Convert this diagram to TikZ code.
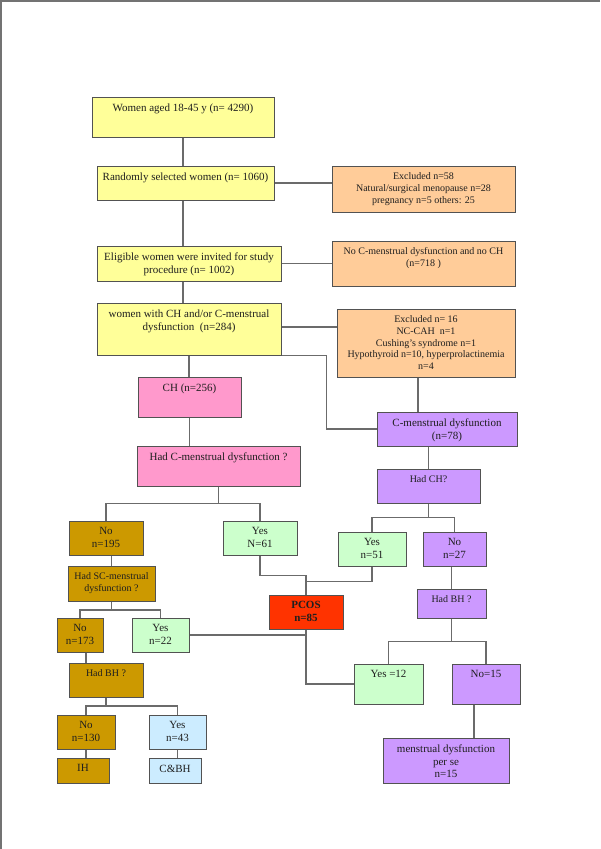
\documentclass[tikz,border=0pt]{standalone}
\usepackage{fontspec}
\setmainfont{Liberation Serif}
\usetikzlibrary{fit,calc}
\definecolor{cy}{HTML}{FFFF99}
\definecolor{co}{HTML}{FFCC99}
\definecolor{cp}{HTML}{FF99CC}
\definecolor{cv}{HTML}{CC99FF}
\definecolor{cl}{HTML}{CCFFCC}
\definecolor{cg}{HTML}{CC9900}
\definecolor{cb}{HTML}{CCECFF}
\definecolor{cr}{HTML}{FF3300}
\newcommand{\mkbox}[8]{%
  \node[boxst, fill=#6, fit={(#2,#3) (#4,#5)}] (#1) {};
  \node[#8] (#1t) at ([yshift=-7pt]#1.north) {#7};
}
\tikzset{
  boxst/.style={draw=black!68, line width=1pt, inner sep=0pt, rectangle},
  tx/.style={anchor=north, inner sep=0pt, align=center, text=black!88, font=\fontsize{11}{12.7}\selectfont},
  txs/.style={anchor=north, inner sep=0pt, align=center, text=black!88, font=\fontsize{10}{11.7}\selectfont},
  ln/.style={draw=black!58, line width=1.1pt},
}
\begin{document}
\begin{tikzpicture}[x=1pt, y=-1pt]
\useasboundingbox (0,0) rectangle (600,849);
\draw[black!55, line width=1.5pt] (600,0.75) -- (0.75,0.75) -- (0.75,849);
\mkbox{w}{92}{97}{274}{137}{cy}{Women aged 18-45 y (n= 4290)}{tx}
\mkbox{r}{97}{166}{274}{200}{cy}{Randomly selected women (n= 1060)}{tx}
\mkbox{ex1}{332}{166}{515}{212}{co}{Excluded n=58\\Natural/surgical menopause n=28\\pregnancy n=5 others: 25}{txs}
\mkbox{e}{97}{246}{281}{281}{cy}{Eligible women were invited for study\\procedure (n= 1002)}{tx}
\mkbox{nc}{332}{241}{515}{286}{co}{No C-menstrual dysfunction and no CH\\(n=718 )}{txs}
\mkbox{c}{97}{303}{281}{355}{cy}{women with CH and/or C-menstrual\\dysfunction\ \ (n=284)}{tx}
\mkbox{ex2}{337}{309}{515}{377}{co}{Excluded n= 16\\NC-CAH\ \ n=1\\Cushing’s syndrome n=1\\Hypothyroid n=10, hyperprolactinemia\\n=4}{txs}
\mkbox{ch}{138}{377}{241}{417}{cp}{CH (n=256)}{tx}
\mkbox{hc}{137}{446}{300}{486}{cp}{Had C-menstrual dysfunction ?}{tx}
\mkbox{cm}{377}{412}{517}{446}{cv}{C-menstrual dysfunction\\(n=78)}{tx}
\mkbox{hch}{377}{469}{480}{503}{cv}{Had CH?}{txs}
\mkbox{n195}{69}{521}{143}{555}{cg}{No\\n=195}{tx}
\mkbox{y61}{223}{521}{297}{555}{cl}{Yes\\N=61}{tx}
\mkbox{y51}{338}{532}{406}{566}{cl}{Yes\\n=51}{tx}
\mkbox{n27}{423}{532}{486}{566}{cv}{No\\n=27}{tx}
\mkbox{hsc}{68}{566}{155}{601}{cg}{Had SC-menstrual\\dysfunction ?}{txs}
\mkbox{pcos}{269}{595}{343}{629}{cr}{\textbf{PCOS}\\\textbf{n=85}}{tx}
\mkbox{hbh2}{417}{589}{486}{618}{cv}{Had BH ?}{txs}
\mkbox{n173}{57}{618}{103}{652}{cg}{No\\n=173}{tx}
\mkbox{y22}{132}{618}{189}{652}{cl}{Yes\\n=22}{tx}
\mkbox{hbh}{69}{663}{143}{697}{cg}{Had BH ?}{txs}
\mkbox{y12}{354}{664}{423}{704}{cl}{Yes =12}{tx}
\mkbox{n15}{452}{664}{520}{704}{cv}{No=15}{tx}
\mkbox{n130}{57}{715}{115}{749}{cg}{No\\n=130}{tx}
\mkbox{y43}{149}{715}{206}{749}{cb}{Yes\\n=43}{tx}
\mkbox{ih}{57}{758}{109}{783}{cg}{IH}{tx}
\mkbox{cbh}{149}{758}{201}{783}{cb}{C\&BH}{tx}
\mkbox{mds}{383}{738}{509}{783}{cv}{menstrual dysfunction\\per se\\n=15}{tx}
% connectors
\draw[ln] (w.south) -- (w.south |- r.north);
\draw[ln] (r.south -| w.south) -- (e.north -| w.south);
\draw[ln] (e.south -| w.south) -- (c.north -| w.south);
\draw[ln] (r.east) -- (r.east -| ex1.west);
\draw[ln] (e.east) -- (e.east -| nc.west);
\draw[ln] (c.east |- 0,327) -- (ex2.west |- 0,327);
\draw[ln] (c.south) -- (ch.north -| c.south);
\draw[ln] (c.south east) -- ++(45,0) |- (cm.west);
\draw[ln] (ex2.south -| 418,0) -- (cm.north -| 418,0);
\draw[ln] (ch.south) -- (hc.north -| ch.south);
\draw[ln] (hc.south) -- ++(0,17) coordinate (j1);
\draw[ln] (n195.north) |- (j1) -| (y61.north);
\draw[ln] (hch.north) -- (cm.south -| hch.north);
\draw[ln] (hch.south) -- ++(0,14) coordinate (j2);
\draw[ln] (y51.north) |- (j2) -| (n27.north);
\draw[ln] (hsc.north) -- (n195.south -| hsc.north);
\draw[ln] (hsc.south) -- ++(0,8.5) coordinate (j3);
\draw[ln] (n173.north) |- (j3) -| (y22.north);
\draw[ln] (n173.south -| 86,0) -- (hbh.north -| 86,0);
\draw[ln] (hbh.south) -- ++(0,8.5) coordinate (j4);
\draw[ln] (n130.north) |- (j4) -| (y43.north);
\draw[ln] (n130.south) -- (ih.north -| n130.south);
\draw[ln] (y43.south) -- (cbh.north -| y43.south);
\draw[ln] (y61.south) -- ++(0,19.7) -| (pcos.north);
\draw[ln] (y51.south) -- ++(0,14.7) -| (pcos.north);
\draw[ln] (y22.east) -- (y22.east -| pcos.south);
\draw[ln] (pcos.south) |- (y12.west);
\draw[ln] (hbh2.north) -- (n27.south -| hbh2.north);
\draw[ln] (hbh2.south) -- ++(0,23) coordinate (j5);
\draw[ln] (y12.north) |- (j5) -| (n15.north);
\draw[ln] (n15.south -| 474,0) -- (mds.north -| 474,0);
\end{tikzpicture}
\end{document}
